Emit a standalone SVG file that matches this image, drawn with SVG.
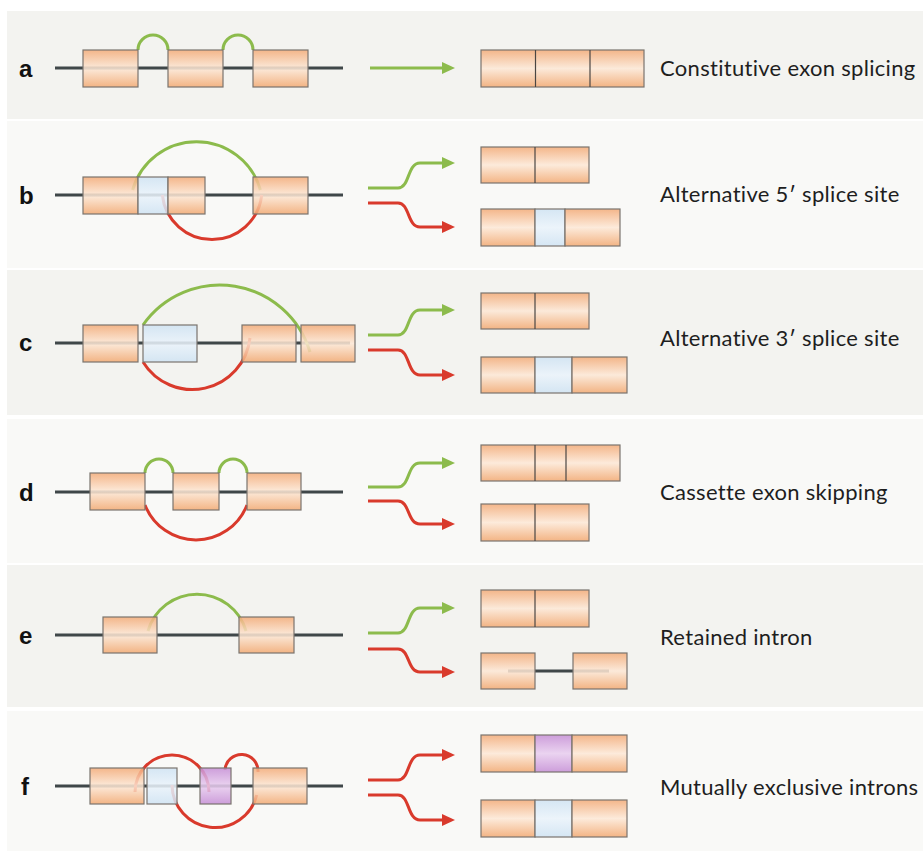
<svg xmlns="http://www.w3.org/2000/svg" width="923" height="851" viewBox="0 0 923 851">
  <defs>
    <linearGradient id="gOrange" x1="0" y1="0" x2="0" y2="1">
      <stop offset="0" stop-color="#f3ab78"/>
      <stop offset="0.5" stop-color="#fde8d6"/>
      <stop offset="1" stop-color="#f2a972"/>
    </linearGradient>
    <linearGradient id="gBlue" x1="0" y1="0" x2="0" y2="1">
      <stop offset="0" stop-color="#cfe3f3"/>
      <stop offset="0.5" stop-color="#eaf3fb"/>
      <stop offset="1" stop-color="#cfe3f3"/>
    </linearGradient>
    <linearGradient id="gPurple" x1="0" y1="0" x2="0" y2="1">
      <stop offset="0" stop-color="#c68fd6"/>
      <stop offset="0.5" stop-color="#e8cdef"/>
      <stop offset="1" stop-color="#c68fd6"/>
    </linearGradient>
    <marker id="mGreen" markerUnits="userSpaceOnUse" markerWidth="14" markerHeight="14" viewBox="0 0 14 14" refX="2" refY="7" orient="auto">
      <path d="M0,1 L13,7 L0,13 Z" fill="#8cbb4c"/>
    </marker>
    <marker id="mRed" markerUnits="userSpaceOnUse" markerWidth="14" markerHeight="14" viewBox="0 0 14 14" refX="2" refY="7" orient="auto">
      <path d="M0,1 L13,7 L0,13 Z" fill="#d93a2c"/>
    </marker>
  </defs>
  <style>
    .bgA { fill: #f3f3f0; }
    .bgB { fill: #f9f9f7; }
    .lbl { font-family: "Liberation Sans", Arial, sans-serif; font-weight: bold; font-size: 24px; fill: #111111; }
    .txt { font-family: Lato, "Liberation Sans", sans-serif; font-size: 22px; letter-spacing: 0.3px; fill: #1e1e1e; }
    .dna { stroke: #3f4749; stroke-width: 3; fill: none; }
    .ex { stroke: #7a746e; stroke-width: 1.2; fill-opacity: 0.86; }
    .or { fill: url(#gOrange); }
    .bl { fill: url(#gBlue); }
    .pu { fill: url(#gPurple); }
    .div { stroke: #4a4643; stroke-width: 1.2; }
    .g { stroke: #8cbb4c; stroke-width: 3; fill: none; }
    .r { stroke: #d93a2c; stroke-width: 3; fill: none; }
    .ga { stroke: #8cbb4c; stroke-width: 3; fill: none; marker-end: url(#mGreen); }
    .ra { stroke: #d93a2c; stroke-width: 3; fill: none; marker-end: url(#mRed); }
  </style>

  <rect width="923" height="851" fill="#ffffff"/>

  <!-- panel backgrounds -->
  <rect class="bgA" x="7" y="11" width="916" height="108"/>
  <rect class="bgB" x="7" y="121" width="916" height="147"/>
  <rect class="bgA" x="7" y="270" width="916" height="145"/>
  <rect class="bgB" x="7" y="419" width="916" height="144"/>
  <rect class="bgA" x="7" y="565" width="916" height="142"/>
  <rect class="bgB" x="7" y="711" width="916" height="140"/>

  <!-- a: constitutive exon splicing -->
  <g id="panel-a">
    <text class="lbl" x="19" y="77">a</text>
    <line class="dna" x1="55" y1="68" x2="343" y2="68"/>
    <path class="g" d="M138,50 A15,15 0 0 1 168,50"/>
    <path class="g" d="M223,50 A15,15 0 0 1 253,50"/>
    <rect class="ex or" x="83" y="50" width="55" height="37"/>
    <rect class="ex or" x="168" y="50" width="55" height="37"/>
    <rect class="ex or" x="253" y="50" width="55" height="37"/>
    <rect class="ex or" x="481" y="50" width="163" height="37"/>
    <line class="div" x1="535.5" y1="50" x2="535.5" y2="87"/>
    <line class="div" x1="590" y1="50" x2="590" y2="87"/>
    <text class="txt" x="660" y="76">Constitutive exon splicing</text>
  </g>

  <!-- b: alternative 5' splice site -->
  <g id="panel-b">
    <text class="lbl" x="19" y="204">b</text>
    <line class="dna" x1="55" y1="195" x2="343" y2="195"/>
    <path class="g" d="M132.6,190 A66.4,66.4 0 0 1 260.4,190"/>
    <path class="r" d="M162.3,195 A50,50 0 0 0 261.7,195"/>
    <rect class="ex or" x="83" y="177" width="55" height="37"/>
    <rect class="ex bl" x="138" y="177" width="30" height="37"/>
    <rect class="ex or" x="168" y="177" width="37" height="37"/>
    <rect class="ex or" x="253" y="177" width="55" height="37"/>
    <rect class="ex or" x="481" y="147" width="108" height="36"/>
    <line class="div" x1="535" y1="147" x2="535" y2="183"/>
    <rect class="ex or" x="481" y="209" width="54" height="37"/>
    <rect class="ex bl" x="535" y="209" width="30" height="37"/>
    <rect class="ex or" x="565" y="209" width="55" height="37"/>
    <text class="txt" x="660" y="202">Alternative 5′ splice site</text>
  </g>

  <!-- c: alternative 3' splice site -->
  <g id="panel-c">
    <text class="lbl" x="19" y="351">c</text>
    <line class="dna" x1="55" y1="343" x2="350" y2="343"/>
    <path class="g" d="M143,325 A94,94 0 0 1 310,352"/>
    <path class="r" d="M143,362 A58,58 0 0 0 250,338"/>
    <rect class="ex or" x="83" y="325" width="55" height="37"/>
    <rect class="ex bl" x="143" y="325" width="54" height="37"/>
    <rect class="ex or" x="242" y="325" width="54" height="37"/>
    <rect class="ex or" x="301" y="325" width="54" height="37"/>
    <rect class="ex or" x="481" y="293" width="108" height="36"/>
    <line class="div" x1="535" y1="293" x2="535" y2="329"/>
    <rect class="ex or" x="481" y="357" width="54" height="36"/>
    <rect class="ex bl" x="535" y="357" width="37" height="36"/>
    <rect class="ex or" x="572" y="357" width="55" height="36"/>
    <text class="txt" x="660" y="346">Alternative 3′ splice site</text>
  </g>

  <!-- d: cassette exon skipping -->
  <g id="panel-d">
    <text class="lbl" x="19" y="501">d</text>
    <line class="dna" x1="55" y1="492" x2="343" y2="492"/>
    <path class="g" d="M145,473 A14,14 0 0 1 173,473"/>
    <path class="g" d="M219,473 A14,14 0 0 1 247,473"/>
    <path class="r" d="M145,505 A54.7,54.7 0 0 0 247,505"/>
    <rect class="ex or" x="90" y="473" width="55" height="37"/>
    <rect class="ex or" x="173" y="473" width="46" height="37"/>
    <rect class="ex or" x="247" y="473" width="54" height="37"/>
    <rect class="ex or" x="481" y="445" width="139" height="36"/>
    <line class="div" x1="535" y1="445" x2="535" y2="481"/>
    <line class="div" x1="566" y1="445" x2="566" y2="481"/>
    <rect class="ex or" x="481" y="504" width="108" height="37"/>
    <line class="div" x1="535" y1="504" x2="535" y2="541"/>
    <text class="txt" x="660" y="500">Cassette exon skipping</text>
  </g>

  <!-- e: retained intron -->
  <g id="panel-e">
    <text class="lbl" x="19" y="644">e</text>
    <line class="dna" x1="55" y1="635" x2="343" y2="635"/>
    <path class="g" d="M148,631 A51,51 0 0 1 246,631"/>
    <rect class="ex or" x="103" y="617" width="54" height="36"/>
    <rect class="ex or" x="239" y="617" width="55" height="36"/>
    <rect class="ex or" x="481" y="590" width="108" height="37"/>
    <line class="div" x1="535" y1="590" x2="535" y2="627"/>
    <line class="dna" x1="508" y1="671" x2="609" y2="671"/>
    <rect class="ex or" x="481" y="653" width="54" height="36"/>
    <rect class="ex or" x="573" y="653" width="54" height="36"/>
    <text class="txt" x="660" y="645">Retained intron</text>
  </g>

  <!-- f: mutually exclusive exons -->
  <g id="panel-f">
    <text class="lbl" x="21" y="795">f</text>
    <line class="dna" x1="55" y1="786" x2="343" y2="786"/>
    <path class="r" d="M135,792 A37,37 0 0 1 209,792"/>
    <path class="r" d="M225,770 A16.5,16.5 0 0 1 258,772"/>
    <path class="r" d="M172,785 A43,43 0 0 0 256.7,795"/>
    <rect class="ex or" x="90" y="768" width="54" height="36"/>
    <rect class="ex bl" x="147" y="768" width="30" height="36"/>
    <rect class="ex pu" x="200" y="768" width="31" height="36"/>
    <rect class="ex or" x="253" y="768" width="54" height="36"/>
    <rect class="ex or" x="481" y="735" width="54" height="37"/>
    <rect class="ex pu" x="535" y="735" width="37" height="37"/>
    <rect class="ex or" x="572" y="735" width="55" height="37"/>
    <rect class="ex or" x="481" y="800" width="54" height="37"/>
    <rect class="ex bl" x="535" y="800" width="37" height="37"/>
    <rect class="ex or" x="572" y="800" width="55" height="37"/>
    <text class="txt" x="660" y="795">Mutually exclusive introns</text>
  </g>

  <!-- splicing outcome arrows -->
  <g id="connectors">
    <path class="ga" d="M370,68 H444"/>
    <path class="ga" d="M368,188 H398 C410,188 407,163 420,163 H444"/>
    <path class="ra" d="M368,203 H398 C410,203 407,227 420,227 H444"/>
    <path class="ga" d="M368,335 H398 C410,335 407,310 420,310 H444"/>
    <path class="ra" d="M368,350 H398 C410,350 407,375 420,375 H444"/>
    <path class="ga" d="M368,487 H398 C410,487 407,463 420,463 H444"/>
    <path class="ra" d="M368,501 H398 C410,501 407,524 420,524 H444"/>
    <path class="ga" d="M368,633 H398 C410,633 407,608 420,608 H444"/>
    <path class="ra" d="M368,649 H398 C410,649 407,672 420,672 H444"/>
    <path class="ra" d="M368,780 H398 C410,780 407,755 420,755 H444"/>
    <path class="ra" d="M368,795 H398 C410,795 407,820 420,820 H444"/>
  </g>
</svg>
